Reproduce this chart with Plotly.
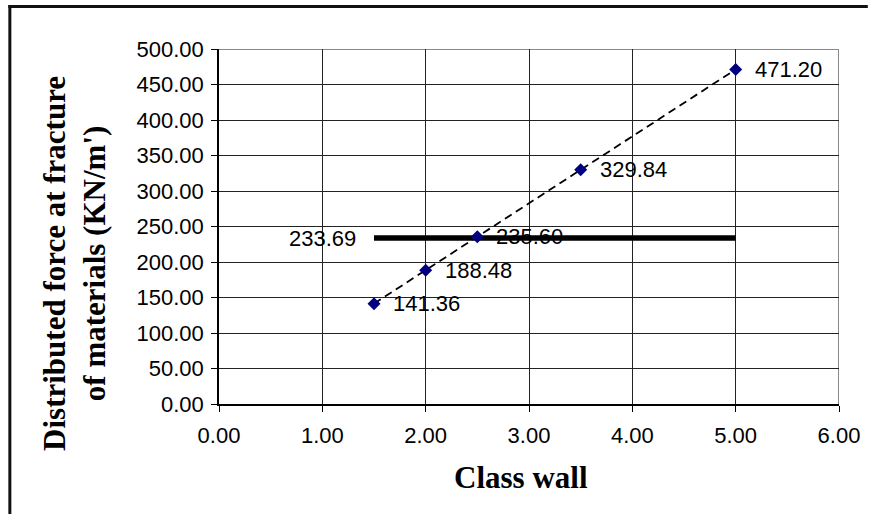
import plotly.graph_objects as go

# Data
class_wall = [1.5, 2.0, 2.5, 3.5, 5.0]
force = [141.36, 188.48, 235.60, 329.84, 471.20]
force_labels = ["141.36", "188.48", "235.60", "329.84", "471.20"]
avg_x = [1.5, 5.0]
avg_value = 233.69
avg_label = "233.69"

W, H = 872, 514
L, R, T, B = 219, 29, 49, 110
pw, ph = W - L - R, H - T - B

def px_to_paper_x(px):
    return (px - L) / pw

def px_to_paper_y(py):
    return (H - B - py) / ph

fig = go.Figure()

fig.add_trace(go.Scatter(
    x=avg_x, y=[avg_value, avg_value], mode="lines",
    line=dict(color="black", width=5.5), showlegend=False, hoverinfo="skip"))

fig.add_trace(go.Scatter(
    x=class_wall, y=force, mode="lines+markers",
    line=dict(color="black", width=1.8, dash="8px,5px"),
    marker=dict(symbol="diamond", size=10, color="#000080"),
    showlegend=False))

tick_font = dict(family="Liberation Sans, Arial", size=22, color="black")
title_font = dict(family="Liberation Serif, Times New Roman", size=31, color="black")

annotations = []
for xv, yv, lab in zip(class_wall, force, force_labels):
    annotations.append(dict(x=xv, y=yv, xref="x", yref="y", text=lab, showarrow=False,
                            xanchor="left", yanchor="middle", xshift=17, font=tick_font))
annotations.append(dict(x=avg_x[0], y=avg_value, xref="x", yref="y", text=avg_label,
                        showarrow=False, xanchor="right", yanchor="middle", xshift=-16,
                        font=tick_font))
annotations.append(dict(x=px_to_paper_x(523), y=px_to_paper_y(477), xref="paper", yref="paper",
                        text="<b>Class wall</b>", showarrow=False, xanchor="center",
                        yanchor="middle", font=title_font))
annotations.append(dict(x=px_to_paper_x(73), y=px_to_paper_y(263), xref="paper", yref="paper",
                        text="<b>Distributed force at fracture<br>of materials (KN/m')</b>",
                        showarrow=False, xanchor="center", yanchor="middle", textangle=-90,
                        font=title_font))

shapes = [
    # outer frame: top and left edges
    dict(type="line", xref="paper", yref="paper",
         x0=px_to_paper_x(7), x1=px_to_paper_x(872), y0=px_to_paper_y(6.5), y1=px_to_paper_y(6.5),
         line=dict(color="#111111", width=3), layer="above"),
    dict(type="line", xref="paper", yref="paper",
         x0=px_to_paper_x(8.5), x1=px_to_paper_x(8.5), y0=px_to_paper_y(5), y1=px_to_paper_y(514),
         line=dict(color="#111111", width=3), layer="above"),
    # top and right plot borders (gray)
    dict(type="line", xref="x", yref="y", x0=0, x1=6, y0=500, y1=500,
         line=dict(color="#8a8a8a", width=2), layer="below"),
    dict(type="line", xref="x", yref="y", x0=6, x1=6, y0=0, y1=500,
         line=dict(color="#8a8a8a", width=2), layer="below"),
]

fig.update_layout(
    width=W, height=H,
    margin=dict(l=L, r=R, t=T, b=B, pad=0),
    paper_bgcolor="white", plot_bgcolor="white",
    annotations=annotations, shapes=shapes,
    xaxis=dict(range=[0, 6], dtick=1, tick0=0, tickformat=".2f", showgrid=True,
               gridcolor="#222222", gridwidth=1, showline=True, linecolor="black",
               linewidth=1.5, ticks="outside", ticklen=6, tickcolor="black",
               tickfont=tick_font, zeroline=False, ticklabelstandoff=5),
    yaxis=dict(range=[0, 500], dtick=50, tick0=0, tickformat=".2f", showgrid=True,
               gridcolor="#222222", gridwidth=1, showline=True, linecolor="black",
               linewidth=1.5, ticks="outside", ticklen=6, tickcolor="black",
               tickfont=tick_font, zeroline=False, ticklabelstandoff=3),
)

fig.write_html("out.html", config={"displayModeBar": False},
               post_script="document.body.style.margin='0';document.documentElement.style.overflow='hidden';")
